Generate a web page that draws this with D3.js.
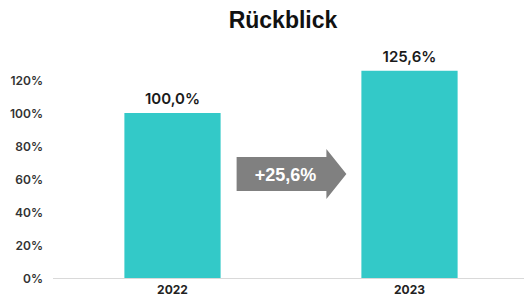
<!DOCTYPE html>
<html><head><meta charset="utf-8">
<script src="https://cdn.jsdelivr.net/npm/d3@7"></script>
<style>body{margin:0;background:#fff;} svg{display:block;}</style>
</head><body>
<svg id="chart" width="524" height="300"></svg>
<script>
const title = "Rückblick";
const categories = ["2022", "2023"];
const values = [100.0, 125.6];
const valueLabels = ["100,0%", "125,6%"];
const yTicks = [0, 20, 40, 60, 80, 100, 120];
const changeLabel = "+25,6%";

const svg = d3.select("#chart");
const x = d3.scaleBand().domain(categories).range([54, 528]).paddingInner(0.594).paddingOuter(0.297);
const y = d3.scaleLinear().domain([0, 120]).range([278, 80]);

svg.append("text").attr("x", 283).attr("y", 28).attr("text-anchor", "middle")
  .attr("font-family", "Liberation Sans, Arial, sans-serif").attr("font-weight", "bold")
  .attr("font-size", 23).attr("fill", "#111").text(title);

// y axis labels
const yAxis = d3.axisLeft(y).tickValues(yTicks).tickFormat(d => d + "%").tickSize(0).tickPadding(0);
const ga = svg.append("g").attr("transform", "translate(43,0)").call(yAxis);
ga.select(".domain").remove();
ga.selectAll("text").attr("font-family", "Inter, sans-serif").attr("font-weight", 600)
  .attr("font-size", 12).attr("fill", "#333").attr("dy", "0.35em");

// baseline
svg.append("line").attr("x1", 53).attr("x2", 524).attr("y1", y(0) + 0.5).attr("y2", y(0) + 0.5)
  .attr("stroke", "#d9d9d9").attr("stroke-width", 1);

// bars
svg.selectAll("rect.bar").data(values).join("rect").attr("class", "bar")
  .attr("x", (d, i) => x(categories[i])).attr("width", x.bandwidth())
  .attr("y", d => y(d)).attr("height", d => y(0) - y(d)).attr("fill", "#33C9C8");

// value labels
svg.selectAll("text.val").data(values).join("text").attr("class", "val")
  .attr("x", (d, i) => x(categories[i]) + x.bandwidth() / 2).attr("y", d => y(d) - 9)
  .attr("text-anchor", "middle").attr("font-family", "Inter, sans-serif").attr("font-weight", 600)
  .attr("font-size", 15).attr("fill", "#1a1a1a").text((d, i) => valueLabels[i]);

// x labels
const xAxis = d3.axisBottom(x).tickSize(0).tickPadding(0);
const gx = svg.append("g").attr("transform", "translate(0,285)").call(xAxis);
gx.select(".domain").remove();
gx.selectAll("text").attr("font-family", "Inter, sans-serif").attr("font-weight", 700)
  .attr("font-size", 12).attr("fill", "#222").attr("dy", "0.71em");

// arrow between bars
const x0 = x(categories[0]) + x.bandwidth() + 16;
const x1 = x(categories[1]) - 15;
const yc = y(63);
const bodyH = 34, headH = 50, headW = 20;
const pts = [[x0, yc - bodyH/2], [x1 - headW, yc - bodyH/2], [x1 - headW, yc - headH/2], [x1, yc],
  [x1 - headW, yc + headH/2], [x1 - headW, yc + bodyH/2], [x0, yc + bodyH/2]];
svg.append("polygon").attr("points", pts.map(p => p.join(",")).join(" ")).attr("fill", "#808080");
svg.append("text").attr("x", (x0 + x1 - headW) / 2 + 4).attr("y", yc).attr("dy", "0.36em")
  .attr("text-anchor", "middle").attr("font-family", "Liberation Sans, Arial, sans-serif")
  .attr("font-weight", "bold").attr("font-size", 18).attr("fill", "#fff").text(changeLabel);
</script>
</body></html>
